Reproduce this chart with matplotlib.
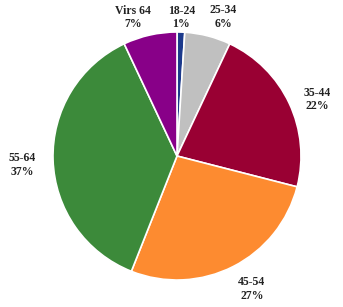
import matplotlib.pyplot as plt
import numpy as np

labels = ["18-24", "25-34", "35-44", "45-54", "55-64", "Virs 64"]
shares = [1, 6, 22, 27, 37, 7]
colors = ["#1c3a8c", "#c0c0c0", "#990033", "#fd8b30", "#3c8a3a", "#880088"]
# small angular nudges (degrees) and radial distances for the labels
nudges = [0, -4, -3.4, 2.4, 1.5, 5]
dists = [1.12, 1.18, 1.22, 1.23, 1.25, 1.17]

fig = plt.figure(figsize=(3.43, 3.07), dpi=100)
ax = fig.add_axes([53 / 343, 27 / 307, 248 / 343, 248 / 307])

wedges, _ = ax.pie(
    shares,
    colors=colors,
    startangle=90,
    counterclock=False,
    wedgeprops=dict(edgecolor="white", linewidth=1.2),
)

total = sum(shares)
start = 90.0
for lab, val, nd, d in zip(labels, shares, nudges, dists):
    sweep = 360.0 * val / total
    mid = np.radians(start - sweep / 2 + nd)
    start -= sweep
    ax.text(
        d * np.cos(mid),
        d * np.sin(mid),
        f"{lab}\n{val}%",
        ha="center",
        va="center",
        fontsize=8.5,
        fontweight="bold",
        family="Liberation Serif",
        color="#222222",
        linespacing=1.15,
    )

ax.set_xlim(-1, 1)
ax.set_ylim(-1, 1)
ax.set_aspect("equal")
ax.axis("off")

fig.savefig("out.png", dpi=100)
